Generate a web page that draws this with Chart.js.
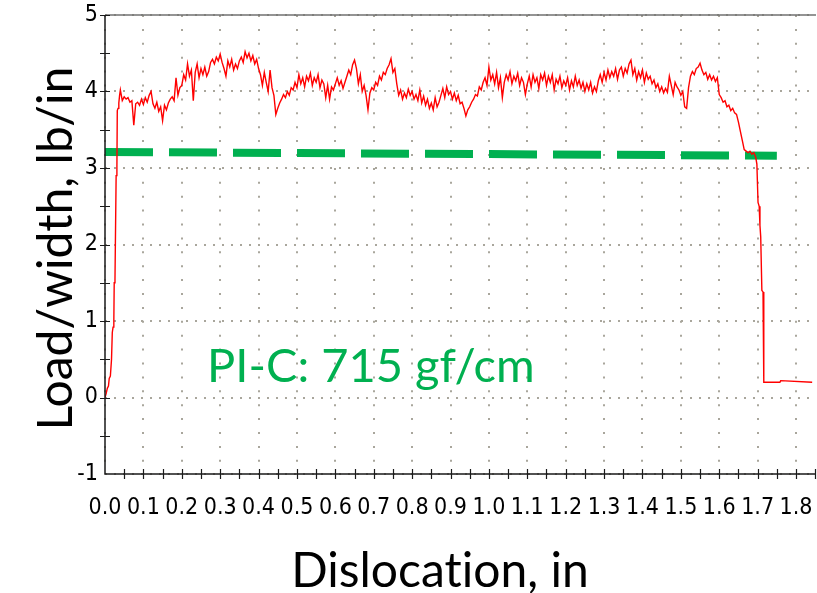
<!DOCTYPE html>
<html>
<head>
<meta charset="utf-8">
<script src="https://cdn.jsdelivr.net/npm/chart.js@4/dist/chart.umd.min.js"></script>
<style>
  html, body { margin: 0; padding: 0; background: #fff; overflow: hidden; }
  canvas { display: block; }
</style>
</head>
<body>
<canvas id="peel" width="817" height="593"></canvas>
<script>
// Peel test trace: load per unit width against crosshead dislocation
const dislocation = [
  0.000,0.003,0.006,0.009,0.011,0.014,0.017,0.019,0.021,0.023,0.024,0.026,0.029,0.031,0.032,0.034,0.036,0.038,
  0.040,0.045,0.050,0.055,0.060,0.065,0.070,0.075,0.080,0.085,0.090,0.095,
  0.100,0.105,0.110,0.115,0.120,0.125,0.130,0.135,0.140,0.145,0.150,0.155,0.160,0.165,0.170,0.175,0.180,0.185,0.190,0.195,
  0.200,0.205,0.210,0.215,0.220,0.225,0.230,0.235,0.240,0.245,0.250,0.255,0.260,0.265,0.270,0.275,0.280,0.285,0.290,0.295,
  0.300,0.305,0.310,0.315,0.320,0.325,0.330,0.335,0.340,0.345,0.350,0.355,0.360,0.365,0.370,0.375,0.380,0.385,0.390,0.395,
  0.400,0.405,0.410,0.415,0.420,0.425,0.430,0.435,0.440,0.445,0.450,0.455,0.460,0.465,0.470,0.475,0.480,0.485,0.490,0.495,
  0.500,0.505,0.510,0.515,0.520,0.525,0.530,0.535,0.540,0.545,0.550,0.555,0.560,0.565,0.570,0.575,0.580,0.585,0.590,0.595,
  0.600,0.605,0.610,0.615,0.620,0.625,0.630,0.635,0.640,0.645,0.650,0.655,0.660,0.665,0.670,0.675,0.680,0.685,0.690,0.695,
  0.700,0.705,0.710,0.715,0.720,0.725,0.730,0.735,0.740,0.745,0.750,0.755,0.760,0.765,0.770,0.775,0.780,0.785,0.790,0.795,
  0.800,0.805,0.810,0.815,0.820,0.825,0.830,0.835,0.840,0.845,0.850,0.855,0.860,0.865,0.870,0.875,0.880,0.885,0.890,0.895,
  0.900,0.905,0.910,0.915,0.920,0.925,0.930,0.935,0.940,0.945,0.950,0.955,0.960,0.965,0.970,0.975,0.980,0.985,0.990,0.995,
  1.000,1.005,1.010,1.015,1.020,1.025,1.030,1.035,1.040,1.045,1.050,1.055,1.060,1.065,1.070,1.075,1.080,1.085,1.090,1.095,
  1.100,1.105,1.110,1.115,1.120,1.125,1.130,1.135,1.140,1.145,1.150,1.155,1.160,1.165,1.170,1.175,1.180,1.185,1.190,1.195,
  1.200,1.205,1.210,1.215,1.220,1.225,1.230,1.235,1.240,1.245,1.250,1.255,1.260,1.265,1.270,1.275,1.280,1.285,1.290,1.295,
  1.300,1.305,1.310,1.315,1.320,1.325,1.330,1.335,1.340,1.345,1.350,1.355,1.360,1.365,1.370,1.375,1.380,1.385,1.390,1.395,
  1.400,1.405,1.410,1.415,1.420,1.425,1.430,1.435,1.440,1.445,1.450,1.455,1.460,1.465,1.470,1.475,1.480,1.485,1.490,1.495,
  1.500,1.505,1.510,1.515,1.520,1.525,1.530,1.535,1.540,1.545,1.550,1.555,1.560,1.565,1.570,1.575,1.580,1.585,1.590,1.595,
  1.600,1.605,1.610,1.615,1.620,1.625,1.630,1.635,1.640,1.645,1.650,1.655,1.660,1.665,1.670,1.675,1.680,1.685,1.690,1.695,
  1.698,1.701,1.704,1.706,1.708,1.711,1.714,1.716,1.758,1.760,1.842
];
const loadPerWidth = [
  0.00,0.05,0.12,0.15,0.25,0.28,0.50,0.85,0.92,1.00,1.50,1.55,2.90,3.00,3.75,3.78,3.85,3.95,
  4.02,3.88,3.93,3.90,3.92,3.86,3.88,3.56,3.84,3.86,3.82,3.90,
  3.83,3.92,3.86,3.95,4.00,3.84,3.78,3.86,3.74,3.80,3.62,3.82,3.76,3.85,3.90,3.93,3.88,4.18,3.95,4.05,
  4.08,4.22,4.15,4.36,4.20,4.28,3.88,4.25,4.36,4.18,4.30,4.22,4.32,4.20,4.26,4.38,4.42,4.36,4.45,4.40,
  4.49,4.38,4.30,4.20,4.40,4.32,4.42,4.28,4.36,4.30,4.40,4.45,4.38,4.52,4.44,4.50,4.40,4.47,4.36,4.42,
  4.30,4.22,4.08,4.25,4.12,4.00,4.28,4.05,3.95,3.70,3.78,3.85,3.90,3.96,3.92,4.00,3.95,4.05,4.02,4.12,
  4.05,4.22,4.10,4.18,4.06,4.20,4.14,4.24,4.08,4.18,4.12,4.22,4.05,4.15,4.10,3.92,4.08,3.90,4.06,4.02,
  4.10,4.18,4.08,4.14,4.04,4.12,4.20,4.28,4.22,4.35,4.41,4.30,4.10,4.22,4.00,4.08,3.95,3.76,3.98,4.05,
  4.02,4.12,4.08,4.20,4.15,4.25,4.22,4.30,4.35,4.43,4.25,4.30,4.10,3.95,4.02,3.90,3.98,3.92,4.03,3.95,
  4.00,3.90,3.96,3.88,4.02,3.85,3.94,3.82,3.90,3.78,3.85,3.76,3.92,3.80,3.86,3.95,4.04,3.92,4.06,3.96,
  4.00,3.90,3.98,3.88,3.95,3.84,3.86,3.78,3.68,3.76,3.80,3.86,3.90,3.96,3.94,4.06,4.02,4.12,4.18,4.08,
  4.32,4.15,4.22,4.10,4.25,4.05,4.18,3.92,4.12,4.22,4.15,4.26,4.10,4.20,4.14,4.24,4.08,4.18,4.12,3.96,
  4.10,4.20,4.06,4.22,4.12,4.18,4.04,4.22,4.15,4.24,4.08,4.20,4.12,4.22,4.02,4.16,4.10,4.20,4.05,4.14,
  4.08,4.18,4.02,4.14,4.06,4.20,4.08,4.15,4.04,4.12,4.00,4.10,4.02,4.12,3.98,4.06,4.00,4.14,4.22,4.12,
  4.25,4.15,4.28,4.18,4.26,4.20,4.30,4.16,4.28,4.32,4.20,4.30,4.24,4.36,4.41,4.22,4.30,4.15,4.26,4.18,
  4.28,4.12,4.24,4.16,4.20,4.10,4.15,4.05,4.10,4.00,4.06,3.98,4.04,3.99,4.20,4.08,3.96,4.12,4.06,4.02,
  3.95,4.00,3.80,3.78,4.05,4.20,4.26,4.22,4.30,4.32,4.37,4.28,4.22,4.25,4.16,4.22,4.15,4.20,4.13,4.18,
  3.96,3.92,3.86,3.88,3.80,3.82,3.75,3.78,3.72,3.70,3.60,3.48,3.36,3.24,3.22,3.20,3.22,3.18,3.20,3.14,
  3.05,2.55,2.50,2.25,2.10,1.40,1.38,0.20,0.20,0.22,0.20
];

// Average peel level marked across the run
const levelX = [0, 1.75];
const levelY = [3.21, 3.16];

const xTickValues = [0.0,0.1,0.2,0.3,0.4,0.5,0.6,0.7,0.8,0.9,1.0,1.1,1.2,1.3,1.4,1.5,1.6,1.7,1.8];
const yTickValues = [-1,0,1,2,3,4,5];

const xTitle = 'Dislocation, in';
const yTitle = 'Load/width, lb/in';
const noteText = 'PI-C: 715 gf/cm';
const notePos = { x: 0.266, y: 0.2 };

const GREEN = '#00b050';
const TITLE_FONT = '48px Lato, "Open Sans", sans-serif';
const NOTE_FONT = '47px Lato, "Open Sans", sans-serif';
const TICK_FONT_FAMILY = '"Liberation Sans Narrow", "DejaVu Sans Condensed", sans-serif';

const tracePoints = dislocation.map((d, i) => ({ x: d, y: loadPerWidth[i] }));
const levelPoints = levelX.map((d, i) => ({ x: d, y: levelY[i] }));

// Plain glyphs for the large labels (no discretionary ligatures)
function plainText(ctx) {
  if ('textRendering' in ctx) ctx.textRendering = 'optimizeSpeed';
  if ('letterSpacing' in ctx) ctx.letterSpacing = '0.01px';
}

// Keep the plot frame fixed: no extra room reserved for label overhang
function fixBox(width, height) {
  return s => {
    if (width !== null) s.width = width;
    if (height !== null) s.height = height;
    s.paddingLeft = 0;
    s.paddingRight = 0;
    s.paddingTop = 0;
    s.paddingBottom = 0;
  };
}

// Axis lines, crossing tick marks, frame top, titles and note
const decorations = {
  id: 'decorations',
  afterDatasetsDraw(chart) {
    const { ctx, chartArea: a, scales: { x, y } } = chart;
    ctx.save();
    ctx.strokeStyle = '#707070';
    ctx.lineWidth = 1.5;
    ctx.beginPath();
    ctx.moveTo(a.left, a.top);
    ctx.lineTo(a.right, a.top);
    ctx.stroke();

    ctx.strokeStyle = '#1a1a1a';
    ctx.lineWidth = 1.5;
    ctx.beginPath();
    ctx.moveTo(a.left, a.top);
    ctx.lineTo(a.left, a.bottom);
    ctx.lineTo(a.right, a.bottom);
    ctx.stroke();

    ctx.lineWidth = 1.2;
    ctx.beginPath();
    const xStep = xTickValues[1] - xTickValues[0];
    xTickValues.forEach(v => {
      [v, v + xStep / 2].forEach(t => {
        if (t <= 0 || t > x.max + 1e-9) return;
        const px = Math.round(x.getPixelForValue(t)) + 0.5;
        ctx.moveTo(px, a.bottom - 5);
        ctx.lineTo(px, a.bottom + 5);
      });
    });
    const yStep = yTickValues[1] - yTickValues[0];
    yTickValues.forEach(v => {
      [v, v + yStep / 2].forEach(t => {
        if (t <= y.min || t > y.max) return;
        const py = Math.round(y.getPixelForValue(t)) + 0.5;
        ctx.moveTo(a.left - 5, py);
        ctx.lineTo(a.left + 5, py);
      });
    });
    ctx.stroke();
    ctx.restore();
  },
  afterDraw(chart) {
    const { ctx, chartArea: a, scales: { x, y } } = chart;
    ctx.save();
    plainText(ctx);
    ctx.fillStyle = '#000';
    ctx.font = TITLE_FONT;
    ctx.textAlign = 'center';
    ctx.textBaseline = 'alphabetic';
    ctx.fillText(xTitle, 440, 587);

    ctx.translate(72, (a.top + a.bottom) / 2 + 4);
    ctx.rotate(-Math.PI / 2);
    ctx.fillText(yTitle, 0, 0);
    ctx.restore();

    ctx.save();
    plainText(ctx);
    ctx.fillStyle = GREEN;
    ctx.font = NOTE_FONT;
    ctx.textAlign = 'left';
    ctx.textBaseline = 'alphabetic';
    ctx.fillText(noteText, x.getPixelForValue(notePos.x), y.getPixelForValue(notePos.y));
    ctx.restore();
  }
};

new Chart(document.getElementById('peel'), {
  type: 'line',
  data: {
    datasets: [
      {
        label: 'Load/width',
        data: tracePoints,
        borderColor: '#ff0000',
        borderWidth: 1.4,
        pointRadius: 0,
        tension: 0,
        fill: false
      },
      {
        label: 'Average',
        data: levelPoints,
        borderColor: GREEN,
        borderWidth: 8,
        borderDash: [48, 16],
        borderCapStyle: 'butt',
        pointRadius: 0,
        tension: 0,
        fill: false
      }
    ]
  },
  options: {
    responsive: false,
    animation: false,
    devicePixelRatio: 1,
    layout: { padding: { top: 15, right: 1, left: 0, bottom: 0 } },
    plugins: {
      legend: { display: false },
      tooltip: { enabled: false },
      title: { display: false }
    },
    scales: {
      x: {
        type: 'linear',
        min: 0,
        max: 1.852,
        afterBuildTicks: s => { s.ticks = xTickValues.map(v => ({ value: v })); },
        afterFit: fixBox(null, 119),
        grid: {
          color: '#a9a69c',
          lineWidth: 2,
          drawTicks: false
        },
        border: { display: false, dash: [2, 11.9] },
        ticks: {
          padding: 20,
          maxRotation: 0,
          autoSkip: false,
          color: '#000',
          font: { family: TICK_FONT_FAMILY, size: 23 },
          callback: v => Number(v).toFixed(1)
        }
      },
      y: {
        type: 'linear',
        min: -1,
        max: 5,
        afterBuildTicks: s => { s.ticks = yTickValues.map(v => ({ value: v })); },
        afterFit: fixBox(105, null),
        grid: {
          color: '#a9a69c',
          lineWidth: 2,
          drawTicks: false
        },
        border: { display: false, dash: [2, 7] },
        ticks: {
          padding: 7,
          color: '#000',
          font: { family: TICK_FONT_FAMILY, size: 23 },
          callback: v => String(v)
        }
      }
    }
  },
  plugins: [decorations]
});
</script>
</body>
</html>
